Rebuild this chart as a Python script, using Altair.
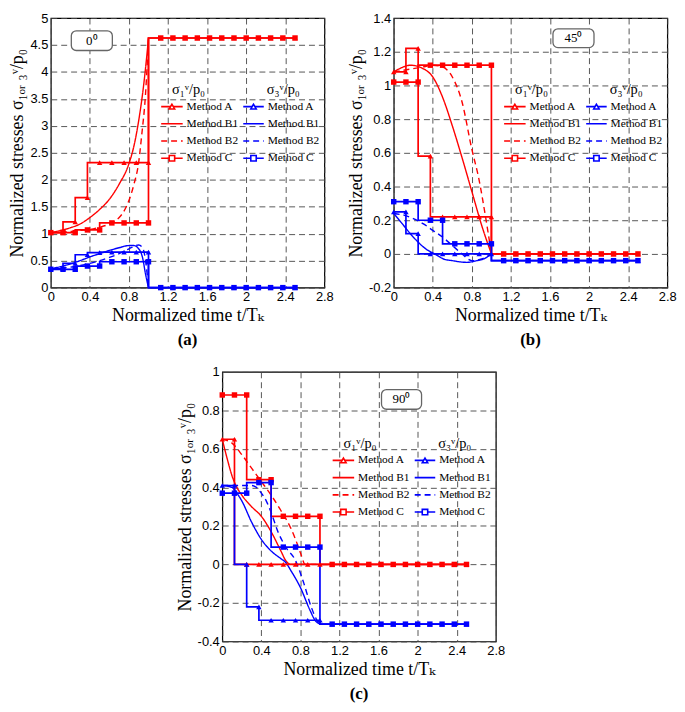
import altair as alt
import pandas as pd

# ---------------- data ----------------
T = [0, 0.125, 0.25, 0.375, 0.5, 0.625, 0.75, 0.875, 1.0, 1.125, 1.25, 1.375,
     1.5, 1.625, 1.75, 1.875, 2.0, 2.125, 2.25, 2.375, 2.5]
XTICKS = [0, 0.4, 0.8, 1.2, 1.6, 2, 2.4, 2.8]

# panel (a) 0 deg
A_S1_A = [1.02, 1.02, 1.22, 1.67, 2.32, 2.32, 2.32, 2.32, 2.32, 4.63, 4.63, 4.63,
          4.63, 4.63, 4.63, 4.63, 4.63, 4.63, 4.63, 4.63, 4.63]
A_S1_C = [1.02, 1.02, 1.02, 1.07, 1.07, 1.2, 1.2, 1.2, 1.2, 4.63, 4.63, 4.63,
          4.63, 4.63, 4.63, 4.63, 4.63, 4.63, 4.63, 4.63, 4.63]
A_S3_A = [0.35, 0.35, 0.45, 0.61, 0.65, 0.66, 0.66, 0.66, 0.66, 0, 0, 0,
          0, 0, 0, 0, 0, 0, 0, 0, 0]
A_S3_C = [0.34, 0.34, 0.34, 0.40, 0.40, 0.48, 0.48, 0.48, 0.48, 0, 0, 0,
          0, 0, 0, 0, 0, 0, 0, 0, 0]
A_S1_B1_T = [0, 0.1, 0.2, 0.3, 0.4, 0.5, 0.6, 0.7, 0.8, 0.85, 0.9, 0.95, 0.98, 1.0]
A_S1_B1_V = [1.02, 1.06, 1.11, 1.18, 1.3, 1.45, 1.64, 1.92, 2.3, 2.62, 3.1, 3.75, 4.25, 4.63]
A_S1_B2_T = [0, 0.1, 0.2, 0.3, 0.4, 0.5, 0.6, 0.65, 0.7, 0.77, 0.85, 0.9, 0.93, 0.97, 1.0]
A_S1_B2_V = [1.02, 1.03, 1.04, 1.06, 1.08, 1.12, 1.18, 1.23, 1.3, 1.49, 1.91, 2.33, 2.82, 3.6, 4.63]
A_S3_B1_T = [0, 0.1, 0.2, 0.3, 0.4, 0.5, 0.6, 0.7, 0.8, 0.85, 0.9, 0.94, 0.97, 1.0]
A_S3_B1_V = [0.35, 0.39, 0.44, 0.5, 0.57, 0.63, 0.69, 0.74, 0.78, 0.78, 0.72, 0.55, 0.25, 0.0]
A_S3_B2_T = [0, 0.1, 0.2, 0.3, 0.4, 0.5, 0.6, 0.7, 0.8, 0.9, 0.94, 0.97, 1.0]
A_S3_B2_V = [0.35, 0.36, 0.38, 0.41, 0.45, 0.5, 0.56, 0.63, 0.72, 0.79, 0.74, 0.5, 0.0]

# panel (b) 45 deg
B_S1_A = [1.08, 1.08, 1.22, 0.58, 0.22, 0.22, 0.22, 0.22, 0.22, 0, 0, 0,
          0, 0, 0, 0, 0, 0, 0, 0, 0]
B_S1_C = [1.02, 1.02, 1.02, 1.12, 1.12, 1.12, 1.12, 1.12, 1.12, 0, 0, 0,
          0, 0, 0, 0, 0, 0, 0, 0, 0]
B_S3_A = [0.25, 0.25, 0.12, 0.0, 0.0, 0.0, 0.0, 0.0, 0.0, -0.04, -0.04, -0.04,
          -0.04, -0.04, -0.04, -0.04, -0.04, -0.04, -0.04, -0.04, -0.04]
B_S3_C = [0.31, 0.31, 0.31, 0.20, 0.20, 0.06, 0.06, 0.06, 0.06, -0.04, -0.04, -0.04,
          -0.04, -0.04, -0.04, -0.04, -0.04, -0.04, -0.04, -0.04, -0.04]
B_S1_B1_T = [0, 0.1, 0.17, 0.3, 0.4, 0.5, 0.6, 0.7, 0.8, 0.9, 1.0]
B_S1_B1_V = [1.08, 1.11, 1.12, 1.10, 1.05, 0.93, 0.76, 0.57, 0.37, 0.17, 0.0]
B_S1_B2_T = [0, 0.1, 0.2, 0.3, 0.4, 0.5, 0.6, 0.7, 0.8, 0.87, 0.94, 1.0]
B_S1_B2_V = [1.08, 1.09, 1.10, 1.11, 1.12, 1.11, 1.05, 0.9, 0.62, 0.45, 0.22, 0.0]
B_S3_B1_T = [0, 0.1, 0.17, 0.25, 0.34, 0.42, 0.51, 0.6, 0.75, 0.85, 0.92, 1.0]
B_S3_B1_V = [0.24, 0.17, 0.12, 0.07, 0.025, 0.0, -0.03, -0.04, -0.05, -0.04, -0.03, 0.0]
B_S3_B2_T = [0, 0.1, 0.2, 0.3, 0.4, 0.5, 0.6, 0.7, 0.8, 0.9, 1.0]
B_S3_B2_V = [0.24, 0.23, 0.21, 0.18, 0.14, 0.1, 0.05, 0.0, -0.04, -0.03, 0.0]

# panel (c) 90 deg
C_S1_A = [0.65, 0.65, 0, 0, 0, 0, 0, 0, 0, 0, 0, 0,
          0, 0, 0, 0, 0, 0, 0, 0, 0]
C_S1_C = [0.88, 0.88, 0.88, 0.44, 0.44, 0.25, 0.25, 0.25, 0.25, 0, 0, 0,
          0, 0, 0, 0, 0, 0, 0, 0, 0]
C_S3_A = [0.41, 0.41, 0.0, -0.22, -0.29, -0.29, -0.29, -0.29, -0.29, -0.31, -0.31, -0.31,
          -0.31, -0.31, -0.31, -0.31, -0.31, -0.31, -0.31, -0.31, -0.31]
C_S3_C = [0.37, 0.37, 0.37, 0.425, 0.425, 0.09, 0.09, 0.09, 0.09, -0.31, -0.31, -0.31,
          -0.31, -0.31, -0.31, -0.31, -0.31, -0.31, -0.31, -0.31, -0.31]
C_S1_B1_T = [0, 0.05, 0.1, 0.15, 0.2, 0.3, 0.4, 0.5, 0.6, 0.65, 0.7, 1.0]
C_S1_B1_V = [0.65, 0.55, 0.46, 0.4, 0.36, 0.3, 0.25, 0.17, 0.07, 0.02, 0.0, 0.0]
C_S1_B2_T = [0, 0.1, 0.2, 0.3, 0.4, 0.5, 0.6, 0.7, 0.75, 0.8, 0.85, 1.0]
C_S1_B2_V = [0.65, 0.63, 0.57, 0.5, 0.43, 0.36, 0.28, 0.19, 0.13, 0.06, 0.0, 0.0]
C_S3_B1_T = [0, 0.1, 0.15, 0.2, 0.3, 0.4, 0.5, 0.6, 0.65, 0.7, 0.8, 0.9, 0.95, 1.0]
C_S3_B1_V = [0.41, 0.4, 0.37, 0.33, 0.22, 0.13, 0.07, 0.03, 0.01, -0.03, -0.12, -0.24, -0.29, -0.31]
C_S3_B2_T = [0, 0.1, 0.2, 0.3, 0.35, 0.4, 0.45, 0.5, 0.57, 0.65, 0.75, 0.83, 0.91, 0.97, 1.0]
C_S3_B2_V = [0.41, 0.41, 0.41, 0.41, 0.4, 0.37, 0.33, 0.27, 0.17, 0.09, 0.02, -0.09, -0.22, -0.29, -0.31]

LEGEND_LABELS = ["Method A", "Method B1", "Method B2", "Method C"]
LEGEND_METHODS = ["A", "B1", "B2", "C"]
HEADERS = ["σ₁ᵛ/p₀", "σ₃ᵛ/p₀"]

# ---------------- style / layout ----------------
W, H = 276, 272
RED, BLUE = "#ff0000", "#0000ff"
SERIF = "Liberation Serif"
TITLE_FONT = "'Liberation Serif', 'DejaVu Serif', serif"
SANS = "Liberation Sans"
SX, SY = W / 280.0, H / 274.0

XTITLE = "Normalized time t/Tₖ"
YTITLE = "Normalized stresses σ₁ₒᵣ ₃ᵛ/p₀"

COLOR = alt.Color("stress:N", scale=alt.Scale(domain=["s1", "s3"], range=[RED, BLUE]), legend=None)
SHAPE = alt.Shape("method:N", scale=alt.Scale(domain=["A", "C"], range=["triangle-up", "square"]), legend=None)
DASH = alt.StrokeDash("method:N", scale=alt.Scale(domain=["A", "B1", "B2", "C"],
                                                 range=[[1, 0], [1, 0], [6, 4], [1, 0]]), legend=None)
LX = alt.Scale(domain=[0, W], range=[0, W])
LY = alt.Scale(domain=[0, H], range=[0, H])

AXIS_STYLE = dict(labelFont=SANS, labelFontSize=13, labelColor="black", labelPadding=3,
                  labelFlush=False, labelOverlap=False,
                  titleFont=TITLE_FONT, titleFontSize=18, titleFontWeight="normal", titleColor="black",
                  titlePadding=3, grid=True, gridColor="#444", gridDash=[6, 4], gridWidth=0.9,
                  gridOpacity=1, domain=False, ticks=False, labelExpr="toString(datum.value)")


def step_frame(s1a, s1c, s3a, s3c):
    rows = []
    for stress, method, vals in [("s1", "A", s1a), ("s1", "C", s1c), ("s3", "A", s3a), ("s3", "C", s3c)]:
        for t, v in zip(T, vals):
            rows.append(dict(t=t, v=v, stress=stress, method=method, key=stress + method))
    return pd.DataFrame(rows)


def smooth_frame(items):
    rows = []
    for stress, method, ts, vs in items:
        for t, v in zip(ts, vs):
            rows.append(dict(t=t, v=v, stress=stress, method=method, key=stress + method))
    return pd.DataFrame(rows)


def legend_layers(box, angle_text):
    col_geo = {"s1": (113, 135, 139, 141), "s3": (197, 218, 222, 238)}
    row_y = [90, 107.5, 125, 142.5]
    rows = []
    for stress in ["s1", "s3"]:
        x0, x1, xt, _ = col_geo[stress]
        for i, (m, lab) in enumerate(zip(LEGEND_METHODS, LEGEND_LABELS)):
            rows.append(dict(px=x0 * SX, px2=x1 * SX, pxm=(x0 + x1) / 2 * SX, ptx=xt * SX,
                             py=row_y[i] * SY, stress=stress, method=m, label=lab))
    ldf = pd.DataFrame(rows)
    hdf = pd.DataFrame([dict(px=col_geo[s][3] * SX, py=73 * SY, label=h)
                        for s, h in zip(["s1", "s3"], HEADERS)])
    bx0, by0, bx1, by1 = box
    bdf = pd.DataFrame([dict(px=bx0 * SX, px2=bx1 * SX, py=by0 * SY, py2=by1 * SY,
                             cx=(bx0 + bx1) / 2 * SX, cy=(by0 + by1) / 2 * SY, label=angle_text)])

    x = lambda f: alt.X(f, scale=LX, axis=None)
    y = lambda f: alt.Y(f, scale=LY, axis=None)

    rule = alt.Chart(ldf).mark_rule(strokeWidth=1.6).encode(
        x=x("px:Q"), x2="px2:Q", y=y("py:Q"), color=COLOR, strokeDash=DASH)
    pts = alt.Chart(ldf[ldf["method"].isin(["A", "C"])]).mark_point(
        filled=False, fill="white", fillOpacity=1, strokeWidth=1.6, size=30, opacity=1).encode(
        x=x("pxm:Q"), y=y("py:Q"), color=COLOR, shape=SHAPE)
    txt = alt.Chart(ldf).mark_text(align="left", baseline="middle", font=SERIF, fontSize=11.5,
                                   color="black").encode(x=x("ptx:Q"), y=y("py:Q"), text="label:N")
    hdr = alt.Chart(hdf).mark_text(align="center", baseline="middle", font=SERIF, fontSize=14.5,
                                   color="black").encode(x=x("px:Q"), y=y("py:Q"), text="label:N")
    rect = alt.Chart(bdf).mark_rect(cornerRadius=5, fill="white", stroke="#666",
                                    strokeWidth=1.3).encode(x=x("px:Q"), x2="px2:Q", y=y("py:Q"), y2="py2:Q")
    btxt = alt.Chart(bdf).mark_text(align="center", baseline="middle", font=SERIF, fontSize=13,
                                    color="black").encode(x=x("cx:Q"), y=y("cy:Q"), text="label:N")
    return alt.layer(rule, pts, txt, hdr, rect, btxt)


def panel(sdf, bdf, ydom, yticks, box, angle_text, tag):
    X = alt.X("t:Q", scale=alt.Scale(domain=[0, 2.8], nice=False, zero=False),
              axis=alt.Axis(values=XTICKS, title=XTITLE, **AXIS_STYLE))
    Y = alt.Y("v:Q", scale=alt.Scale(domain=ydom, nice=False, zero=False),
              axis=alt.Axis(values=yticks, title=YTITLE, **AXIS_STYLE))
    smooth = alt.Chart(bdf).mark_line(interpolate="monotone", strokeWidth=1.4).encode(
        x=X, y=Y, color=COLOR, strokeDash=DASH, detail="key:N")
    steps = alt.Chart(sdf).mark_line(interpolate="step-before", strokeWidth=1.7).encode(
        x=X, y=Y, color=COLOR, detail="key:N")
    marks = alt.Chart(sdf).mark_point(filled=True, size=30, opacity=1).encode(
        x=X, y=Y, color=COLOR, shape=SHAPE)
    main = alt.layer(smooth, steps, marks)
    return alt.layer(main, legend_layers(box, angle_text)).resolve_scale(
        x="independent", y="independent").properties(
        width=W, height=H,
        title=alt.TitleParams(tag, orient="bottom", font=SERIF, fontSize=17, fontWeight="bold",
                              offset=8, frame="group", anchor="middle", color="black"))


pa = panel(step_frame(A_S1_A, A_S1_C, A_S3_A, A_S3_C),
           smooth_frame([("s1", "B1", A_S1_B1_T, A_S1_B1_V), ("s1", "B2", A_S1_B2_T, A_S1_B2_V),
                         ("s3", "B1", A_S3_B1_T, A_S3_B1_V), ("s3", "B2", A_S3_B2_T, A_S3_B2_V)]),
           [0, 5], [0, 0.5, 1, 1.5, 2, 2.5, 3, 3.5, 4, 4.5, 5],
           (21, 13, 63, 33), "0⁰", "(a)")
pb = panel(step_frame(B_S1_A, B_S1_C, B_S3_A, B_S3_C),
           smooth_frame([("s1", "B1", B_S1_B1_T, B_S1_B1_V), ("s1", "B2", B_S1_B2_T, B_S1_B2_V),
                         ("s3", "B1", B_S3_B1_T, B_S3_B1_V), ("s3", "B2", B_S3_B2_T, B_S3_B2_V)]),
           [-0.2, 1.4], [-0.2, 0, 0.2, 0.4, 0.6, 0.8, 1, 1.2, 1.4],
           (163, 11, 205, 30), "45⁰", "(b)")
pc = panel(step_frame(C_S1_A, C_S1_C, C_S3_A, C_S3_C),
           smooth_frame([("s1", "B1", C_S1_B1_T, C_S1_B1_V), ("s1", "B2", C_S1_B2_T, C_S1_B2_V),
                         ("s3", "B1", C_S3_B1_T, C_S3_B1_V), ("s3", "B2", C_S3_B2_T, C_S3_B2_V)]),
           [-0.4, 1], [-0.4, -0.2, 0, 0.2, 0.4, 0.6, 0.8, 1],
           (163, 18, 204, 38), "90⁰", "(c)")

chart = alt.vconcat(alt.hconcat(pa, pb, spacing=12), pc, center=True, spacing=16).properties(
    padding={"left": 0, "top": 0, "right": 0, "bottom": 0}, background="white"
).configure_view(stroke="black", strokeWidth=1.2)

chart.save("out.html", embed_options={"renderer": "svg", "actions": False})
